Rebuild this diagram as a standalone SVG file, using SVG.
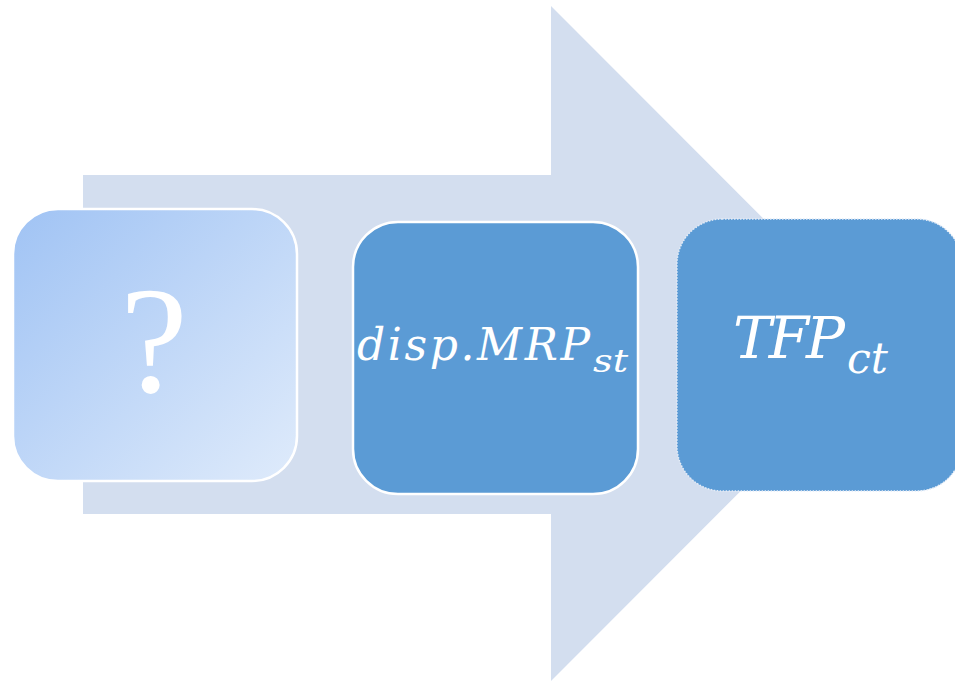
<svg xmlns="http://www.w3.org/2000/svg" width="955" height="681" viewBox="0 0 955 681">
<defs>
<linearGradient id="g1" x1="0" y1="0" x2="1" y2="1">
<stop offset="0" stop-color="#a0c3f4"/>
<stop offset="1" stop-color="#dfebfb"/>
</linearGradient>
<style>
.box{stroke:#ffffff;stroke-width:2.5}
.dark{fill:#5b9bd5}
.math{font-family:"DejaVu Serif","Liberation Serif",serif;font-style:italic;fill:#ffffff}
.q{font-family:"Liberation Serif","Times New Roman",serif;fill:#ffffff}
</style>
</defs>
<rect width="955" height="681" fill="#ffffff"/>
<g id="arrow">
<polygon points="83,175 551,175 551,6 888,343.5 551,681 551,514 83,514" fill="#d3deef"/>
</g>
<g id="connectors"></g>
<g id="node1">
<rect class="box" x="13" y="209" width="284" height="272" rx="45" fill="url(#g1)"/>
<text class="q" x="154" y="392" font-size="152" text-anchor="middle">?</text>
</g>
<g id="node2">
<rect class="box dark" x="353" y="222" width="285" height="272" rx="45"/>
<text class="math" y="360"><tspan x="357" font-size="44" textLength="233" lengthAdjust="spacing">disp.MRP</tspan><tspan x="593" y="372" font-size="32" textLength="35" lengthAdjust="spacingAndGlyphs">st</tspan></text>
</g>
<g id="node3">
<rect class="dark" x="677" y="219" width="285" height="272" rx="45" stroke="#e4ecf7" stroke-width="1.5" stroke-dasharray="1.5 1.5"/>
<text class="math" y="358"><tspan x="733" font-size="58" textLength="112" lengthAdjust="spacing">TFP</tspan><tspan x="847" y="373" font-size="42" textLength="41" lengthAdjust="spacingAndGlyphs">ct</tspan></text>
</g>
</svg>
